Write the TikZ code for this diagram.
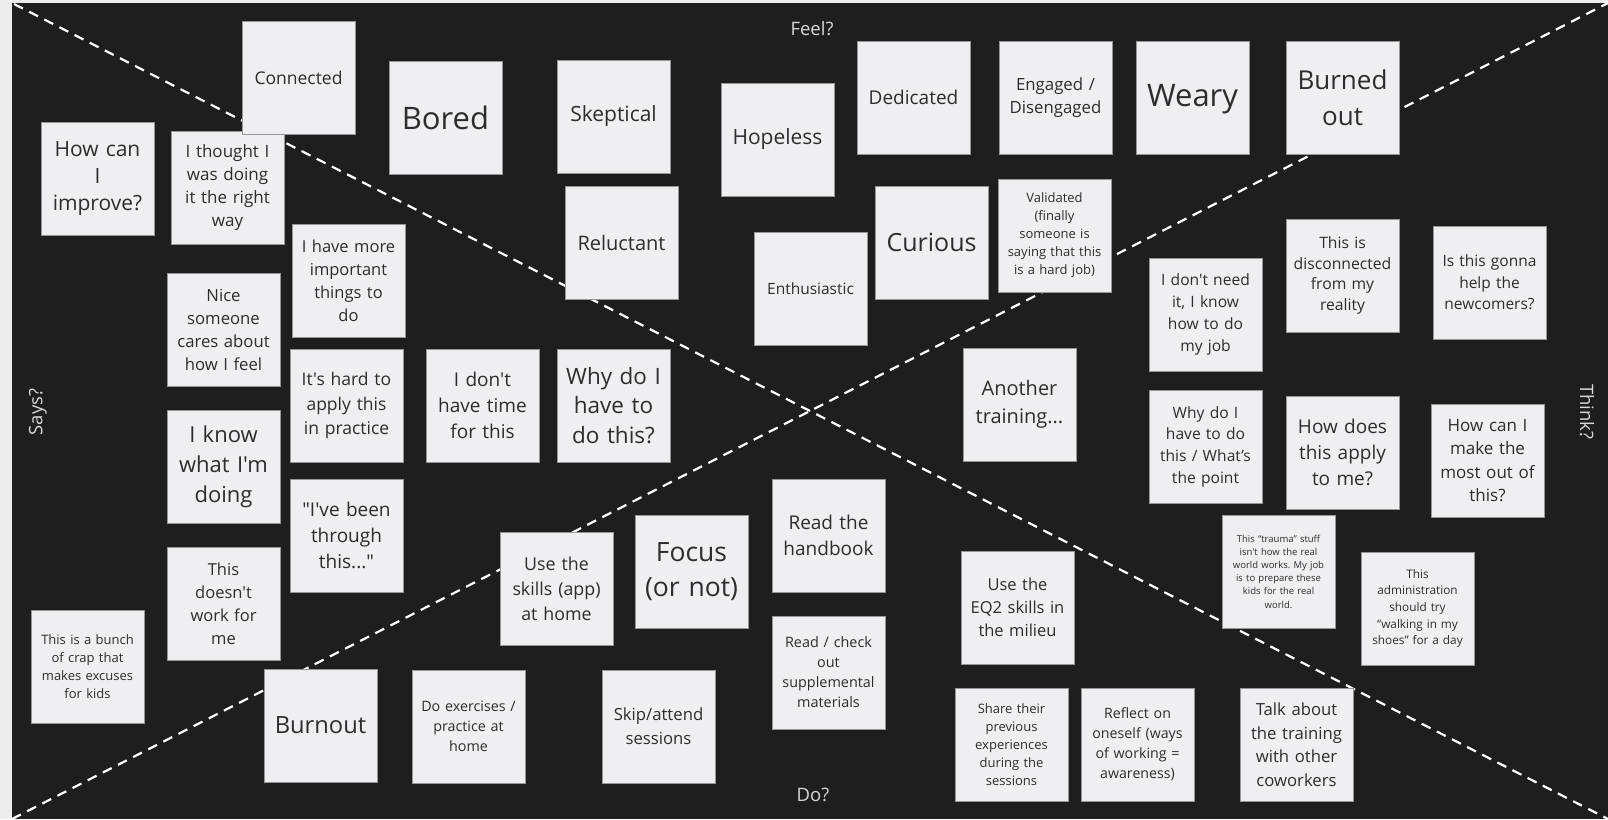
\documentclass[tikz,border=0pt]{standalone}
\usepackage{fontspec}
\setmainfont{Open Sans}[Ligatures=TeXOff]
\frenchspacing
\definecolor{pagebg}{RGB}{236,236,236}
\definecolor{board}{RGB}{30,30,30}
\definecolor{notefill}{RGB}{239,239,242}
\definecolor{noteedge}{RGB}{150,150,150}
\definecolor{notetext}{RGB}{45,45,45}
\definecolor{axislabel}{RGB}{215,215,215}
\newcommand\nf[2]{\fontsize{#1}{#2}\selectfont}
\begin{document}
\begin{tikzpicture}[x=1pt,y=-1pt,
  note/.style={draw=noteedge, line width=0.8pt, fill=notefill, text=notetext,
    minimum width=113pt, minimum height=113pt, text width=109pt, inner sep=2pt,
    align=center, anchor=north west, outer sep=0pt},
  axis/.style={text=axislabel, font=\nf{18.5}{22}, inner sep=0pt},
  divider/.style={draw=white, line width=2.2pt, dash pattern=on 10pt off 7pt}]
\useasboundingbox (0,0) rectangle (1608,819);
% board
\fill[pagebg] (0,0) rectangle (1608,819);
\fill[board] (12,3) rectangle (1608,819);
% quadrant dividers
\coordinate (tl) at (14,4);
\coordinate (br) at (1608,819);
\coordinate (bl) at (12,819);
\coordinate (tr) at (1608,3);
\draw[divider] (tl) -- (br);
\draw[divider] (bl) -- (tr);
% Says
\node[note, font={\nf{21}{27}}] (howcan) at (41,122) {How can\\ I\\ improve?};
\node[note, font={\nf{17}{23}}] (thought) at (171,131) {I thought I\\ was doing\\ it the right\\ way};
\node[note, font={\nf{17.5}{23}}] (connected) at (242,21) {Connected};
\node[note, font={\nf{16.5}{23}}] (important) at (292,224) {I have more\\ important\\ things to\\ do};
\node[note, font={\nf{16.7}{23}}] (nice) at (167,273) {Nice\\ someone\\ cares about\\ how I feel};
\node[note, font={\nf{17.5}{24.5}}] (hardapply) at (290,349) {It's hard to\\ apply this\\ in practice};
\node[note, font={\nf{22}{30}}] (iknow) at (167,410) {I know\\ what I'm\\ doing};
\node[note, font={\nf{19}{26}}] (been) at (290,479) {"I've been\\ through\\ this..."};
\node[note, font={\nf{16.5}{23}}] (doesnt) at (167,547) {This\\ doesn't\\ work for\\ me};
\node[note, font={\nf{13}{18}}] (crap) at (31,610) {This is a bunch\\ of crap that\\ makes excuses\\ for kids};
\node[note, font={\nf{19}{26}}] (donthave) at (426,349) {I don't\\ have time\\ for this};
\node[note, font={\nf{22.5}{29.5}}] (whydo) at (557,349) {Why do I\\ have to\\ do this?};
% Feel
\node[note, font={\nf{31}{36}}] (bored) at (389,61) {Bored};
\node[note, font={\nf{21}{26}}] (skeptical) at (557,60) {Skeptical};
\node[note, font={\nf{21}{26}}] (hopeless) at (721,83) {Hopeless};
\node[note, font={\nf{20}{26}}] (reluctant) at (565,186) {Reluctant};
\node[note, font={\nf{15.5}{20}}] (enthus) at (754,232) {Enthusiastic};
\node[note, font={\nf{19}{24}}] (dedicated) at (857,41) {Dedicated};
\node[note, font={\nf{16.8}{23}}] (engaged) at (999,41) {Engaged /\\ Disengaged};
\node[note, font={\nf{31}{36}}, text depth=4pt] (weary) at (1136,41) {Weary};
\node[note, font={\nf{26}{36}}] (burned) at (1286,41) {Burned\\ out};
\node[note, font={\nf{25}{30}}] (curious) at (875,186) {Curious};
\node[note, font={\nf{13}{18}}] (validated) at (998,179) {Validated\\ (finally\\ someone is\\ saying that this\\ is a hard job)};
% Think
\node[note, font={\nf{15.6}{22}}] (dontneed) at (1149,258) {I don't need\\ it, I know\\ how to do\\ my job};
\node[note, font={\nf{15.7}{20.5}}] (disconnected) at (1286,219) {This is\\ disconnected\\ from my\\ reality};
\node[note, font={\nf{15.5}{21.5}}] (gonna) at (1433,226) {Is this gonna\\ help the\\ newcomers?};
\node[note, font={\nf{20}{27.5}}] (another) at (963,348) {Another\\ training...};
\node[note, font={\nf{15.6}{21.7}}] (whatpoint) at (1149,390) {Why do I\\ have to do\\ this / What’s\\ the point};
\node[note, font={\nf{19}{26}}] (applyme) at (1286,396) {How does\\ this apply\\ to me?};
\node[note, font={\nf{17}{23.3}}] (mostout) at (1431,404) {How can I\\ make the\\ most out of\\ this?};
\node[note, font={\nf{9.5}{13.2}}] (trauma) at (1222,515) {This “trauma” stuff\\ isn't how the real\\ world works. My job\\ is to prepare these\\ kids for the real\\ world.};
\node[note, font={\nf{11.8}{16.7}}] (admin) at (1361,552) {This\\ administration\\ should try\\ “walking in my\\ shoes” for a day};
% Do
\node[note, font={\nf{17.8}{25}}] (skills) at (500,532) {Use the\\ skills (app)\\ at home};
\node[note, font={\nf{26.5}{35}}] (focus) at (635,515) {Focus\\ (or not)};
\node[note, font={\nf{19}{26}}] (handbook) at (772,479) {Read the\\ handbook};
\node[note, font={\nf{14.4}{20}}] (supplemental) at (772,616) {Read / check\\ out\\ supplemental\\ materials};
\node[note, font={\nf{23.7}{30}}] (burnout) at (264,669) {Burnout};
\node[note, font={\nf{14.3}{20}}] (exercises) at (412,670) {Do exercises /\\ practice at\\ home};
\node[note, font={\nf{16.7}{24.3}}] (skip) at (602,670) {Skip/attend\\ sessions};
\node[note, font={\nf{16.5}{23.3}}] (eq2) at (961,551) {Use the\\ EQ2 skills in\\ the milieu};
\node[note, font={\nf{13}{18}}] (share) at (955,688) {Share their\\ previous\\ experiences\\ during the\\ sessions};
\node[note, font={\nf{14.2}{20}}] (reflect) at (1081,688) {Reflect on\\ oneself (ways\\ of working =\\ awareness)};
\node[note, font={\nf{16.7}{23.5}}] (talk) at (1240,688) {Talk about\\ the training\\ with other\\ coworkers};
% quadrant labels
\node[axis] (feel) at (812,29) {Feel?};
\node[axis] (do) at (813,795) {Do?};
\node[axis, rotate=90] (says) at (38,412) {Says?};
\node[axis, rotate=-90] (think) at (1587,412) {Think?};
\end{tikzpicture}
\end{document}
